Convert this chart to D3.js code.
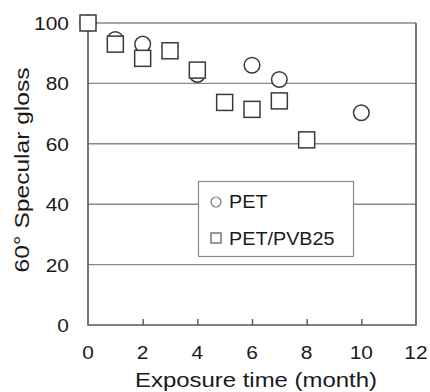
<!DOCTYPE html>
<html>
<head>
<meta charset="utf-8">
<script src="https://cdn.jsdelivr.net/npm/d3@7"></script>
<style>
  body { margin: 0; background: #fff; }
  svg text { font-family: "Liberation Sans", Arial, sans-serif; fill: #1a1a1a; }
</style>
</head>
<body>
<div id="chart"></div>
<script>
// PET data (months, gloss)
var petMonths = [0, 1, 2, 4, 6, 7, 10];
var petGloss = [100, 94.5, 93, 83, 86, 81.3, 70.3];
// PET/PVB25 data
var pvbMonths = [0, 1, 2, 3, 4, 5, 6, 7, 8];
var pvbGloss = [100, 93, 88.3, 90.8, 84.4, 73.7, 71.4, 74.2, 61.3];

var xTicks = [0, 2, 4, 6, 8, 10, 12];
var yTicks = [0, 20, 40, 60, 80, 100];
var legendLabels = ["PET", "PET/PVB25"];

var width = 430,
    height = 392,
    margin = {top: 23, right: 14, bottom: 67, left: 88};

var svg = d3.select('#chart')
  .append('svg')
  .attr('width', width)
  .attr('height', height);

var x = d3.scaleLinear().domain([0, 12]).range([margin.left, width - margin.right]);
var y = d3.scaleLinear().domain([0, 100]).range([height - margin.bottom, margin.top]);

var gridColor = '#8a8a8a',
    axisColor = '#555',
    markColor = '#3a3a3a';

// gridlines
svg.append('g')
  .selectAll('line')
  .data(yTicks.filter(d => d > 0))
  .enter().append('line')
  .attr('x1', x(0)).attr('x2', x(12))
  .attr('y1', d => y(d)).attr('y2', d => y(d))
  .attr('stroke', gridColor)
  .attr('stroke-width', 1.4);

// x axis, ticks pointing inward
var xAxis = d3.axisTop(x).tickValues(xTicks.filter(d => d > 0 && d < 12)).tickSize(6).tickFormat('');
var gx = svg.append('g')
  .attr('transform', `translate(0,${y(0)})`)
  .call(xAxis);
gx.select('.domain').remove();
gx.selectAll('line').attr('stroke', axisColor).attr('stroke-width', 1.4);

// frame: left, bottom, right
svg.append('path')
  .attr('d', `M${x(0)},${y(100)}V${y(0)}H${x(12)}V${y(100)}`)
  .attr('fill', 'none')
  .attr('stroke', axisColor)
  .attr('stroke-width', 1.6);

// tick labels
svg.append('g')
  .selectAll('text')
  .data(xTicks)
  .enter().append('text')
  .attr('transform', d => `translate(${x(d)},359) scale(1.1,1)`)
  .attr('text-anchor', 'middle')
  .style('font-size', '19px')
  .text(d => d);

svg.append('g')
  .selectAll('text')
  .data(yTicks)
  .enter().append('text')
  .attr('transform', d => `translate(69,${y(d) + 7}) scale(1.1,1)`)
  .attr('text-anchor', 'end')
  .style('font-size', '19px')
  .text(d => d);

// axis titles
svg.append('text')
  .attr('transform', `translate(256,387) scale(1.14,1)`)
  .attr('text-anchor', 'middle')
  .style('font-size', '21px')
  .text('Exposure time (month)');

svg.append('text')
  .attr('transform', `translate(29,170) rotate(-90) scale(1.17,1)`)
  .attr('text-anchor', 'middle')
  .style('font-size', '21px')
  .text('60° Specular gloss');

// markers: circles first, squares on top
var pet = petMonths.map((m, i) => ({m: m, v: petGloss[i]}));
var pvb = pvbMonths.map((m, i) => ({m: m, v: pvbGloss[i]}));

svg.append('g')
  .selectAll('circle')
  .data(pet)
  .enter().append('circle')
  .attr('cx', d => x(d.m))
  .attr('cy', d => y(d.v))
  .attr('r', 7.8)
  .attr('fill', '#fff')
  .attr('stroke', markColor)
  .attr('stroke-width', 1.5);

var sq = 16;
svg.append('g')
  .selectAll('rect')
  .data(pvb)
  .enter().append('rect')
  .attr('x', d => x(d.m) - sq / 2)
  .attr('y', d => y(d.v) - sq / 2)
  .attr('width', sq)
  .attr('height', sq)
  .attr('fill', '#fff')
  .attr('stroke', markColor)
  .attr('stroke-width', 1.5);

// legend
var legend = svg.append('g');
legend.append('rect')
  .attr('x', 198.5).attr('y', 181.5)
  .attr('width', 155).attr('height', 75)
  .attr('fill', '#fff')
  .attr('stroke', gridColor)
  .attr('stroke-width', 1.2);

legend.append('circle')
  .attr('cx', 216).attr('cy', 202)
  .attr('r', 5)
  .attr('fill', '#fff')
  .attr('stroke', '#777')
  .attr('stroke-width', 1.2);

legend.append('rect')
  .attr('x', 211).attr('y', 233)
  .attr('width', 10).attr('height', 10)
  .attr('fill', '#fff')
  .attr('stroke', '#555')
  .attr('stroke-width', 1.2);

legend.selectAll('text.lab')
  .data(legendLabels)
  .enter().append('text')
  .attr('class', 'lab')
  .attr('transform', (d, i) => `translate(229,${208 + i * 37}) scale(1.1,1)`)
  .style('font-size', '18px')
  .text(d => d);
</script>
</body>
</html>
